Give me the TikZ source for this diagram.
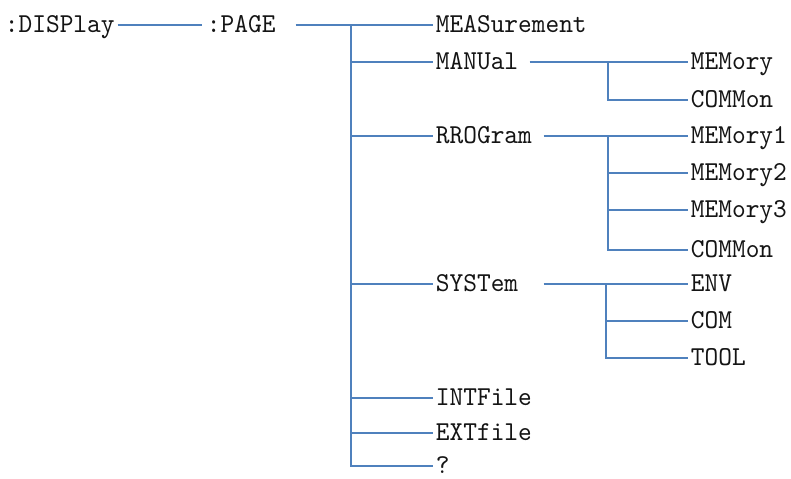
\documentclass[tikz,border=0pt]{standalone}
\usepackage{fontspec}
\usepackage{tikz}
\usetikzlibrary{positioning, calc}
\newfontfamily\cmdfont{lmmono10-regular}[Extension=.otf, FakeStretch=0.955]
\definecolor{treeblue}{HTML}{4F81BD}
\definecolor{cmdtext}{HTML}{141414}
\tikzset{
  cmd/.style={
    anchor=west, inner xsep=2pt, inner ysep=0pt,
    text height=11.2pt, text depth=0pt,
    font=\cmdfont\fontsize{20.5}{21}\selectfont, text=cmdtext
  },
  conn/.style={draw=treeblue, line width=2pt},
}
\begin{document}
\begin{tikzpicture}[x=0.75pt, y=-0.75pt]
\useasboundingbox (0,0) rectangle (791,478);

% root and page
\node[cmd] (disp) at (2,25) {:DISPlay};
\node[cmd] (page) at (204,25) {:PAGE};
\draw[conn, shorten >=1.5pt] (disp) -- (page);

% second level
\coordinate (pj) at (351,25);
\node[cmd] (meas)   at (433,25)  {MEASurement};
\node[cmd] (manual) at (433,62)  {MANUal};
\node[cmd] (prog)   at (433,136) {RROGram};
\node[cmd] (system) at (433,284) {SYSTem};
\node[cmd] (intf)   at (433,398) {INTFile};
\node[cmd] (extf)   at (433,433) {EXTfile};
\node[cmd] (query)  at (433,466) {?};

\draw[conn, shorten <=12.9pt] (page) -- (meas);
\foreach \n in {manual, prog, system, intf, extf, query}
  \draw[conn] (pj) |- (\n);

% third level: MANUal
\coordinate (mj) at (608,62);
\node[cmd] (mmem) at (688,62)  {MEMory};
\node[cmd] (mcom) at (688,100) {COMMon};
\draw[conn, shorten <=6.4pt] (manual) -- (mmem);
\draw[conn] (mj) |- (mcom);

% third level: RROGram
\coordinate (rj) at (608,136);
\node[cmd] (rmem1) at (688,136) {MEMory1};
\node[cmd] (rmem2) at (688,173) {MEMory2};
\node[cmd] (rmem3) at (688,210) {MEMory3};
\node[cmd] (rcom)  at (688,250) {COMMon};
\draw[conn, shorten <=6.6pt] (prog) -- (rmem1);
\foreach \n in {rmem2, rmem3, rcom}
  \draw[conn] (rj) |- (\n);

% third level: SYSTem
\coordinate (sj) at (606,284);
\node[cmd] (senv)  at (688,284) {ENV};
\node[cmd] (scom)  at (688,321) {COM};
\node[cmd] (stool) at (688,358) {TOOL};
\draw[conn, shorten <=16.9pt] (system) -- (senv);
\foreach \n in {scom, stool}
  \draw[conn] (sj) |- (\n);

\end{tikzpicture}
\end{document}
